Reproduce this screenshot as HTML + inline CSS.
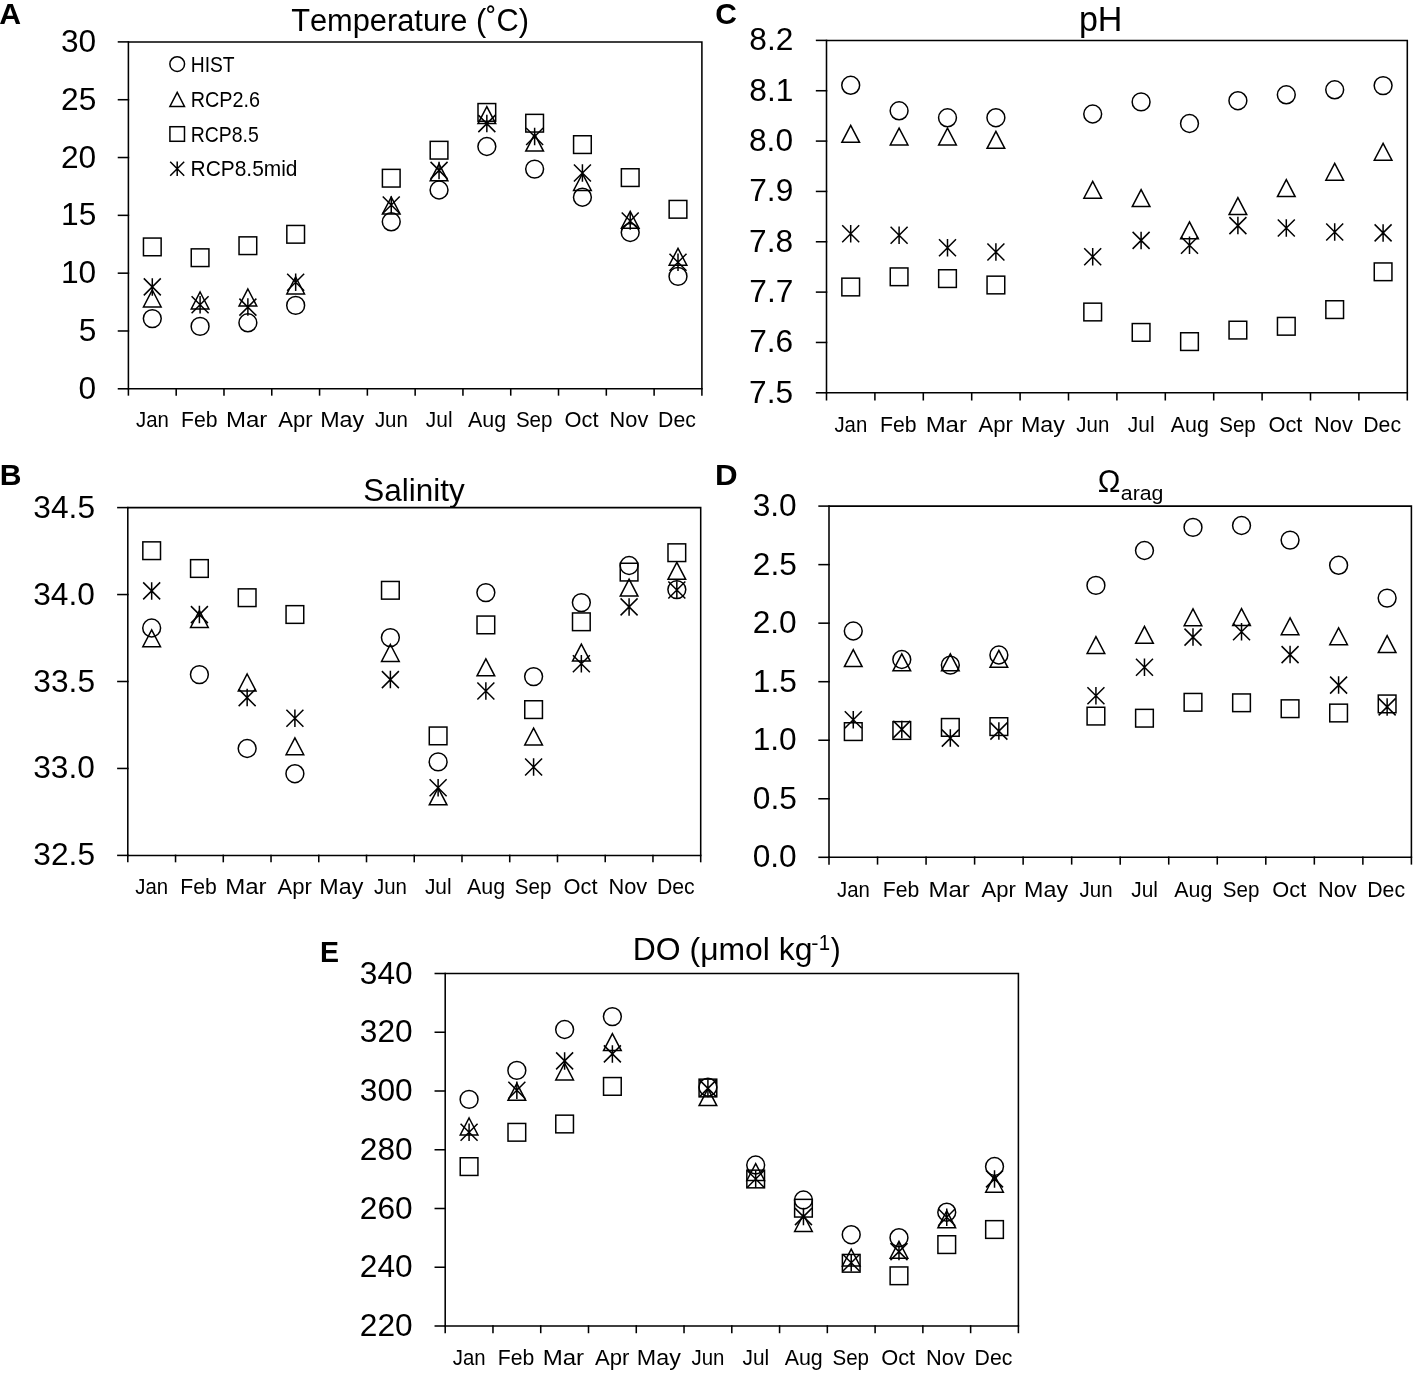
<!DOCTYPE html>
<html><head><meta charset="utf-8"><title>Figure</title>
<style>html,body{margin:0;padding:0;background:#fff;}body{width:1415px;height:1373px;overflow:hidden;}svg{display:block;}</style>
</head><body>
<svg width="1415" height="1373" viewBox="0 0 1415 1373">
<rect width="1415" height="1373" fill="#fff"/>
<g fill="none" stroke="#000" stroke-width="1.55" stroke-linecap="square">
<path d="M128.4 41.9H701.9V388.8H128.4Z"/>
<path d="M118.5 388.8H128.4"/>
<path d="M118.5 330.98H128.4"/>
<path d="M118.5 273.17H128.4"/>
<path d="M118.5 215.35H128.4"/>
<path d="M118.5 157.53H128.4"/>
<path d="M118.5 99.72H128.4"/>
<path d="M118.5 41.9H128.4"/>
<path d="M128.4 388.8V394.9"/>
<path d="M176.19 388.8V394.9"/>
<path d="M223.98 388.8V394.9"/>
<path d="M271.77 388.8V394.9"/>
<path d="M319.57 388.8V394.9"/>
<path d="M367.36 388.8V394.9"/>
<path d="M415.15 388.8V394.9"/>
<path d="M462.94 388.8V394.9"/>
<path d="M510.73 388.8V394.9"/>
<path d="M558.52 388.8V394.9"/>
<path d="M606.32 388.8V394.9"/>
<path d="M654.11 388.8V394.9"/>
<path d="M701.9 388.8V394.9"/>
<path d="M127.8 507.6H700.7V855.4H127.8Z"/>
<path d="M117.9 855.4H127.8"/>
<path d="M117.9 768.45H127.8"/>
<path d="M117.9 681.5H127.8"/>
<path d="M117.9 594.55H127.8"/>
<path d="M117.9 507.6H127.8"/>
<path d="M127.8 855.4V861.55"/>
<path d="M175.54 855.4V861.55"/>
<path d="M223.28 855.4V861.55"/>
<path d="M271.03 855.4V861.55"/>
<path d="M318.77 855.4V861.55"/>
<path d="M366.51 855.4V861.55"/>
<path d="M414.25 855.4V861.55"/>
<path d="M461.99 855.4V861.55"/>
<path d="M509.73 855.4V861.55"/>
<path d="M557.48 855.4V861.55"/>
<path d="M605.22 855.4V861.55"/>
<path d="M652.96 855.4V861.55"/>
<path d="M700.7 855.4V861.55"/>
<path d="M826.5 40.4H1407.3V392.8H826.5Z"/>
<path d="M816.6 392.8H826.5"/>
<path d="M816.6 342.46H826.5"/>
<path d="M816.6 292.11H826.5"/>
<path d="M816.6 241.77H826.5"/>
<path d="M816.6 191.43H826.5"/>
<path d="M816.6 141.09H826.5"/>
<path d="M816.6 90.74H826.5"/>
<path d="M816.6 40.4H826.5"/>
<path d="M826.5 392.8V399.75"/>
<path d="M874.9 392.8V399.75"/>
<path d="M923.3 392.8V399.75"/>
<path d="M971.7 392.8V399.75"/>
<path d="M1020.1 392.8V399.75"/>
<path d="M1068.5 392.8V399.75"/>
<path d="M1116.9 392.8V399.75"/>
<path d="M1165.3 392.8V399.75"/>
<path d="M1213.7 392.8V399.75"/>
<path d="M1262.1 392.8V399.75"/>
<path d="M1310.5 392.8V399.75"/>
<path d="M1358.9 392.8V399.75"/>
<path d="M1407.3 392.8V399.75"/>
<path d="M829 506.1H1411.4V857.3H829Z"/>
<path d="M819.1 857.3H829"/>
<path d="M819.1 798.77H829"/>
<path d="M819.1 740.23H829"/>
<path d="M819.1 681.7H829"/>
<path d="M819.1 623.17H829"/>
<path d="M819.1 564.63H829"/>
<path d="M819.1 506.1H829"/>
<path d="M829 857.3V863.85"/>
<path d="M877.53 857.3V863.85"/>
<path d="M926.07 857.3V863.85"/>
<path d="M974.6 857.3V863.85"/>
<path d="M1023.13 857.3V863.85"/>
<path d="M1071.67 857.3V863.85"/>
<path d="M1120.2 857.3V863.85"/>
<path d="M1168.73 857.3V863.85"/>
<path d="M1217.27 857.3V863.85"/>
<path d="M1265.8 857.3V863.85"/>
<path d="M1314.33 857.3V863.85"/>
<path d="M1362.87 857.3V863.85"/>
<path d="M1411.4 857.3V863.85"/>
<path d="M445.2 973.5H1018.4V1326H445.2Z"/>
<path d="M435.3 1326H445.2"/>
<path d="M435.3 1267.25H445.2"/>
<path d="M435.3 1208.5H445.2"/>
<path d="M435.3 1149.75H445.2"/>
<path d="M435.3 1091H445.2"/>
<path d="M435.3 1032.25H445.2"/>
<path d="M435.3 973.5H445.2"/>
<path d="M445.2 1326V1332.45"/>
<path d="M492.97 1326V1332.45"/>
<path d="M540.73 1326V1332.45"/>
<path d="M588.5 1326V1332.45"/>
<path d="M636.27 1326V1332.45"/>
<path d="M684.03 1326V1332.45"/>
<path d="M731.8 1326V1332.45"/>
<path d="M779.57 1326V1332.45"/>
<path d="M827.33 1326V1332.45"/>
<path d="M875.1 1326V1332.45"/>
<path d="M922.87 1326V1332.45"/>
<path d="M970.63 1326V1332.45"/>
<path d="M1018.4 1326V1332.45"/>
</g>
<g fill="none" stroke="#000" stroke-width="1.5" stroke-linejoin="miter" stroke-miterlimit="4">
<circle cx="152.3" cy="318.6" r="8.93"/>
<circle cx="200.09" cy="326.4" r="8.93"/>
<circle cx="247.88" cy="322.8" r="8.93"/>
<circle cx="295.67" cy="305.4" r="8.93"/>
<circle cx="391.25" cy="221.8" r="8.93"/>
<circle cx="439.05" cy="190" r="8.93"/>
<circle cx="486.84" cy="146.5" r="8.93"/>
<circle cx="534.63" cy="169.1" r="8.93"/>
<circle cx="582.42" cy="197.2" r="8.93"/>
<circle cx="630.21" cy="232.5" r="8.93"/>
<circle cx="678" cy="276.4" r="8.93"/>
<path d="M152.3 289.98L161.14 306.9H143.46Z"/>
<path d="M200.09 291.98L208.93 308.9H191.25Z"/>
<path d="M247.88 288.98L256.72 305.9H239.04Z"/>
<path d="M295.67 276.98L304.51 293.9H286.83Z"/>
<path d="M391.25 197.09L400.09 214H382.41Z"/>
<path d="M439.05 163.89L447.89 180.8H430.21Z"/>
<path d="M486.84 106.69L495.68 123.6H478Z"/>
<path d="M534.63 134.19L543.47 151.1H525.79Z"/>
<path d="M582.42 173.59L591.26 190.5H573.58Z"/>
<path d="M630.21 211.28L639.05 228.2H621.37Z"/>
<path d="M678 248.28L686.84 265.2H669.16Z"/>
<rect x="143.46" y="238.06" width="17.68" height="17.68"/>
<rect x="191.25" y="248.86" width="17.68" height="17.68"/>
<rect x="239.04" y="236.86" width="17.68" height="17.68"/>
<rect x="286.83" y="225.46" width="17.68" height="17.68"/>
<rect x="382.41" y="169.36" width="17.68" height="17.68"/>
<rect x="430.21" y="141.36" width="17.68" height="17.68"/>
<rect x="478" y="103.56" width="17.68" height="17.68"/>
<rect x="525.79" y="114.36" width="17.68" height="17.68"/>
<rect x="573.58" y="135.76" width="17.68" height="17.68"/>
<rect x="621.37" y="168.76" width="17.68" height="17.68"/>
<rect x="669.16" y="200.46" width="17.68" height="17.68"/>
<path d="M152.3 278.14V295.65M143.8 278.4L160.8 295.4M160.8 278.4L143.8 295.4"/>
<path d="M200.09 296.05V313.56M191.59 296.3L208.59 313.3M208.59 296.3L191.59 313.3"/>
<path d="M247.88 298.35V315.86M239.38 298.6L256.38 315.6M256.38 298.6L239.38 315.6"/>
<path d="M295.67 273.44V290.95M287.17 273.7L304.17 290.7M304.17 273.7L287.17 290.7"/>
<path d="M391.25 196.25V213.75M382.75 196.5L399.75 213.5M399.75 196.5L382.75 213.5"/>
<path d="M439.05 161.65V179.16M430.55 161.9L447.55 178.9M447.55 161.9L430.55 178.9"/>
<path d="M486.84 114.84V132.35M478.34 115.1L495.34 132.1M495.34 115.1L478.34 132.1"/>
<path d="M534.63 127.75V145.25M526.13 128L543.13 145M543.13 128L526.13 145"/>
<path d="M582.42 164.25V181.75M573.92 164.5L590.92 181.5M590.92 164.5L573.92 181.5"/>
<path d="M630.21 212.25V229.75M621.71 212.5L638.71 229.5M638.71 212.5L621.71 229.5"/>
<path d="M678 253.55V271.06M669.5 253.8L686.5 270.8M686.5 253.8L669.5 270.8"/>
<circle cx="151.67" cy="628" r="8.93"/>
<circle cx="199.41" cy="674.6" r="8.93"/>
<circle cx="247.15" cy="748.5" r="8.93"/>
<circle cx="294.9" cy="773.7" r="8.93"/>
<circle cx="390.38" cy="637.6" r="8.93"/>
<circle cx="438.12" cy="761.9" r="8.93"/>
<circle cx="485.86" cy="592.6" r="8.93"/>
<circle cx="533.6" cy="676.6" r="8.93"/>
<circle cx="581.35" cy="602.6" r="8.93"/>
<circle cx="629.09" cy="565.5" r="8.93"/>
<circle cx="676.83" cy="589.6" r="8.93"/>
<path d="M151.67 629.79L160.51 646.7H142.83Z"/>
<path d="M199.41 610.59L208.25 627.5H190.57Z"/>
<path d="M247.15 673.99L255.99 690.9H238.31Z"/>
<path d="M294.9 737.79L303.74 754.7H286.06Z"/>
<path d="M390.38 644.49L399.22 661.4H381.54Z"/>
<path d="M438.12 787.88L446.96 804.8H429.28Z"/>
<path d="M485.86 658.88L494.7 675.8H477.02Z"/>
<path d="M533.6 728.09L542.44 745H524.76Z"/>
<path d="M581.35 644.19L590.19 661.1H572.51Z"/>
<path d="M629.09 579.19L637.93 596.1H620.25Z"/>
<path d="M676.83 562.38L685.67 579.3H667.99Z"/>
<rect x="142.83" y="541.86" width="17.68" height="17.68"/>
<rect x="190.57" y="559.66" width="17.68" height="17.68"/>
<rect x="238.31" y="588.86" width="17.68" height="17.68"/>
<rect x="286.06" y="605.66" width="17.68" height="17.68"/>
<rect x="381.54" y="581.46" width="17.68" height="17.68"/>
<rect x="429.28" y="727.06" width="17.68" height="17.68"/>
<rect x="477.02" y="616.06" width="17.68" height="17.68"/>
<rect x="524.76" y="700.76" width="17.68" height="17.68"/>
<rect x="572.51" y="612.96" width="17.68" height="17.68"/>
<rect x="620.25" y="563.26" width="17.68" height="17.68"/>
<rect x="667.99" y="543.86" width="17.68" height="17.68"/>
<path d="M151.67 582.14V599.65M143.17 582.4L160.17 599.4M160.17 582.4L143.17 599.4"/>
<path d="M199.41 605.85V623.36M190.91 606.1L207.91 623.1M207.91 606.1L190.91 623.1"/>
<path d="M247.15 688.85V706.36M238.65 689.1L255.65 706.1M255.65 689.1L238.65 706.1"/>
<path d="M294.9 709.54V727.05M286.4 709.8L303.4 726.8M303.4 709.8L286.4 726.8"/>
<path d="M390.38 670.85V688.36M381.88 671.1L398.88 688.1M398.88 671.1L381.88 688.1"/>
<path d="M438.12 779.04V796.55M429.62 779.3L446.62 796.3M446.62 779.3L429.62 796.3"/>
<path d="M485.86 682.25V699.75M477.36 682.5L494.36 699.5M494.36 682.5L477.36 699.5"/>
<path d="M533.6 758.25V775.75M525.1 758.5L542.1 775.5M542.1 758.5L525.1 775.5"/>
<path d="M581.35 655.04V672.55M572.85 655.3L589.85 672.3M589.85 655.3L572.85 672.3"/>
<path d="M629.09 598.14V615.65M620.59 598.4L637.59 615.4M637.59 598.4L620.59 615.4"/>
<path d="M676.83 581.25V598.75M668.33 581.5L685.33 598.5M685.33 581.5L668.33 598.5"/>
<circle cx="850.7" cy="85.3" r="8.93"/>
<circle cx="899.1" cy="110.8" r="8.93"/>
<circle cx="947.5" cy="117.8" r="8.93"/>
<circle cx="995.9" cy="117.7" r="8.93"/>
<circle cx="1092.7" cy="114" r="8.93"/>
<circle cx="1141.1" cy="101.9" r="8.93"/>
<circle cx="1189.5" cy="123.5" r="8.93"/>
<circle cx="1237.9" cy="100.7" r="8.93"/>
<circle cx="1286.3" cy="94.8" r="8.93"/>
<circle cx="1334.7" cy="89.8" r="8.93"/>
<circle cx="1383.1" cy="85.6" r="8.93"/>
<path d="M850.7 125.39L859.54 142.3H841.86Z"/>
<path d="M899.1 128.09L907.94 145H890.26Z"/>
<path d="M947.5 128.09L956.34 145H938.66Z"/>
<path d="M995.9 131.39L1004.74 148.3H987.06Z"/>
<path d="M1092.7 181.28L1101.54 198.2H1083.86Z"/>
<path d="M1141.1 189.69L1149.94 206.6H1132.26Z"/>
<path d="M1189.5 221.89L1198.34 238.8H1180.66Z"/>
<path d="M1237.9 197.69L1246.74 214.6H1229.06Z"/>
<path d="M1286.3 179.69L1295.14 196.6H1277.46Z"/>
<path d="M1334.7 163.28L1343.54 180.2H1325.86Z"/>
<path d="M1383.1 143.28L1391.94 160.2H1374.26Z"/>
<rect x="841.86" y="278.16" width="17.68" height="17.68"/>
<rect x="890.26" y="267.96" width="17.68" height="17.68"/>
<rect x="938.66" y="269.76" width="17.68" height="17.68"/>
<rect x="987.06" y="276.16" width="17.68" height="17.68"/>
<rect x="1083.86" y="303.16" width="17.68" height="17.68"/>
<rect x="1132.26" y="323.56" width="17.68" height="17.68"/>
<rect x="1180.66" y="332.76" width="17.68" height="17.68"/>
<rect x="1229.06" y="321.26" width="17.68" height="17.68"/>
<rect x="1277.46" y="317.46" width="17.68" height="17.68"/>
<rect x="1325.86" y="300.76" width="17.68" height="17.68"/>
<rect x="1374.26" y="262.96" width="17.68" height="17.68"/>
<path d="M850.7 225.05V242.56M842.2 225.3L859.2 242.3M859.2 225.3L842.2 242.3"/>
<path d="M899.1 226.44V243.95M890.6 226.7L907.6 243.7M907.6 226.7L890.6 243.7"/>
<path d="M947.5 239.05V256.56M939 239.3L956 256.3M956 239.3L939 256.3"/>
<path d="M995.9 243.25V260.75M987.4 243.5L1004.4 260.5M1004.4 243.5L987.4 260.5"/>
<path d="M1092.7 247.94V265.45M1084.2 248.2L1101.2 265.2M1101.2 248.2L1084.2 265.2"/>
<path d="M1141.1 231.65V249.16M1132.6 231.9L1149.6 248.9M1149.6 231.9L1132.6 248.9"/>
<path d="M1189.5 236.55V254.06M1181 236.8L1198 253.8M1198 236.8L1181 253.8"/>
<path d="M1237.9 216.84V234.35M1229.4 217.1L1246.4 234.1M1246.4 217.1L1229.4 234.1"/>
<path d="M1286.3 219.25V236.75M1277.8 219.5L1294.8 236.5M1294.8 219.5L1277.8 236.5"/>
<path d="M1334.7 223.25V240.75M1326.2 223.5L1343.2 240.5M1343.2 223.5L1326.2 240.5"/>
<path d="M1383.1 224.15V241.66M1374.6 224.4L1391.6 241.4M1391.6 224.4L1374.6 241.4"/>
<circle cx="853.27" cy="631" r="8.93"/>
<circle cx="901.8" cy="659.5" r="8.93"/>
<circle cx="950.33" cy="665.1" r="8.93"/>
<circle cx="998.87" cy="655" r="8.93"/>
<circle cx="1095.93" cy="585.4" r="8.93"/>
<circle cx="1144.47" cy="550.5" r="8.93"/>
<circle cx="1193" cy="527.4" r="8.93"/>
<circle cx="1241.53" cy="525.5" r="8.93"/>
<circle cx="1290.07" cy="540.1" r="8.93"/>
<circle cx="1338.6" cy="565.3" r="8.93"/>
<circle cx="1387.13" cy="598.1" r="8.93"/>
<path d="M853.27 649.69L862.11 666.6H844.43Z"/>
<path d="M901.8 653.88L910.64 670.8H892.96Z"/>
<path d="M950.33 653.88L959.17 670.8H941.49Z"/>
<path d="M998.87 650.38L1007.71 667.3H990.03Z"/>
<path d="M1095.93 636.59L1104.77 653.5H1087.09Z"/>
<path d="M1144.47 626.38L1153.31 643.3H1135.63Z"/>
<path d="M1193 608.79L1201.84 625.7H1184.16Z"/>
<path d="M1241.53 608.59L1250.37 625.5H1232.69Z"/>
<path d="M1290.07 617.79L1298.91 634.7H1281.23Z"/>
<path d="M1338.6 627.79L1347.44 644.7H1329.76Z"/>
<path d="M1387.13 635.69L1395.97 652.6H1378.29Z"/>
<rect x="844.43" y="722.76" width="17.68" height="17.68"/>
<rect x="892.96" y="721.66" width="17.68" height="17.68"/>
<rect x="941.49" y="718.56" width="17.68" height="17.68"/>
<rect x="990.03" y="717.76" width="17.68" height="17.68"/>
<rect x="1087.09" y="707.26" width="17.68" height="17.68"/>
<rect x="1135.63" y="709.36" width="17.68" height="17.68"/>
<rect x="1184.16" y="693.46" width="17.68" height="17.68"/>
<rect x="1232.69" y="693.96" width="17.68" height="17.68"/>
<rect x="1281.23" y="699.86" width="17.68" height="17.68"/>
<rect x="1329.76" y="704.16" width="17.68" height="17.68"/>
<rect x="1378.29" y="695.06" width="17.68" height="17.68"/>
<path d="M853.27 711.04V728.55M844.77 711.3L861.77 728.3M861.77 711.3L844.77 728.3"/>
<path d="M901.8 720.64V738.15M893.3 720.9L910.3 737.9M910.3 720.9L893.3 737.9"/>
<path d="M950.33 729.35V746.86M941.83 729.6L958.83 746.6M958.83 729.6L941.83 746.6"/>
<path d="M998.87 722.35V739.86M990.37 722.6L1007.37 739.6M1007.37 722.6L990.37 739.6"/>
<path d="M1095.93 686.95V704.46M1087.43 687.2L1104.43 704.2M1104.43 687.2L1087.43 704.2"/>
<path d="M1144.47 658.45V675.96M1135.97 658.7L1152.97 675.7M1152.97 658.7L1135.97 675.7"/>
<path d="M1193 628.35V645.86M1184.5 628.6L1201.5 645.6M1201.5 628.6L1184.5 645.6"/>
<path d="M1241.53 622.95V640.46M1233.03 623.2L1250.03 640.2M1250.03 623.2L1233.03 640.2"/>
<path d="M1290.07 645.85V663.36M1281.57 646.1L1298.57 663.1M1298.57 646.1L1281.57 663.1"/>
<path d="M1338.6 676.35V693.86M1330.1 676.6L1347.1 693.6M1347.1 676.6L1330.1 693.6"/>
<path d="M1387.13 698.14V715.65M1378.63 698.4L1395.63 715.4M1395.63 698.4L1378.63 715.4"/>
<circle cx="469.08" cy="1099.4" r="8.93"/>
<circle cx="516.85" cy="1070.4" r="8.93"/>
<circle cx="564.62" cy="1029.5" r="8.93"/>
<circle cx="612.38" cy="1016.6" r="8.93"/>
<circle cx="707.92" cy="1087.2" r="8.93"/>
<circle cx="755.68" cy="1165" r="8.93"/>
<circle cx="803.45" cy="1200" r="8.93"/>
<circle cx="851.22" cy="1234.7" r="8.93"/>
<circle cx="898.98" cy="1237.7" r="8.93"/>
<circle cx="946.75" cy="1212.2" r="8.93"/>
<circle cx="994.52" cy="1166.5" r="8.93"/>
<path d="M469.08 1117.99L477.92 1134.9H460.24Z"/>
<path d="M516.85 1083.38L525.69 1100.3H508.01Z"/>
<path d="M564.62 1063.09L573.46 1080H555.78Z"/>
<path d="M612.38 1033.68L621.22 1050.6H603.54Z"/>
<path d="M707.92 1088.68L716.76 1105.6H699.08Z"/>
<path d="M755.68 1163.59L764.52 1180.5H746.84Z"/>
<path d="M803.45 1214.59L812.29 1231.5H794.61Z"/>
<path d="M851.22 1249.09L860.06 1266H842.38Z"/>
<path d="M898.98 1241.29L907.82 1258.2H890.14Z"/>
<path d="M946.75 1210.88L955.59 1227.8H937.91Z"/>
<path d="M994.52 1175.29L1003.36 1192.2H985.68Z"/>
<rect x="460.24" y="1157.76" width="17.68" height="17.68"/>
<rect x="508.01" y="1123.46" width="17.68" height="17.68"/>
<rect x="555.78" y="1115.16" width="17.68" height="17.68"/>
<rect x="603.54" y="1077.56" width="17.68" height="17.68"/>
<rect x="699.08" y="1079.16" width="17.68" height="17.68"/>
<rect x="746.84" y="1170.16" width="17.68" height="17.68"/>
<rect x="794.61" y="1199.36" width="17.68" height="17.68"/>
<rect x="842.38" y="1254.46" width="17.68" height="17.68"/>
<rect x="890.14" y="1266.96" width="17.68" height="17.68"/>
<rect x="937.91" y="1235.76" width="17.68" height="17.68"/>
<rect x="985.68" y="1220.66" width="17.68" height="17.68"/>
<path d="M469.08 1123.54V1141.06M460.58 1123.8L477.58 1140.8M477.58 1123.8L460.58 1140.8"/>
<path d="M516.85 1081.44V1098.96M508.35 1081.7L525.35 1098.7M525.35 1081.7L508.35 1098.7"/>
<path d="M564.62 1052.14V1069.66M556.12 1052.4L573.12 1069.4M573.12 1052.4L556.12 1069.4"/>
<path d="M612.38 1045.14V1062.66M603.88 1045.4L620.88 1062.4M620.88 1045.4L603.88 1062.4"/>
<path d="M707.92 1079.64V1097.16M699.42 1079.9L716.42 1096.9M716.42 1079.9L699.42 1096.9"/>
<path d="M755.68 1170.24V1187.76M747.18 1170.5L764.18 1187.5M764.18 1170.5L747.18 1187.5"/>
<path d="M803.45 1207.84V1225.36M794.95 1208.1L811.95 1225.1M811.95 1208.1L794.95 1225.1"/>
<path d="M851.22 1254.04V1271.56M842.72 1254.3L859.72 1271.3M859.72 1254.3L842.72 1271.3"/>
<path d="M898.98 1242.84V1260.36M890.48 1243.1L907.48 1260.1M907.48 1243.1L890.48 1260.1"/>
<path d="M946.75 1208.44V1225.96M938.25 1208.7L955.25 1225.7M955.25 1208.7L938.25 1225.7"/>
<path d="M994.52 1170.14V1187.66M986.02 1170.4L1003.02 1187.4M1003.02 1170.4L986.02 1187.4"/>
<circle cx="177.2" cy="64.1" r="7.35"/>
<path d="M177.2 92.47L184.48 106.4H169.92Z"/>
<rect x="169.92" y="126.72" width="14.56" height="14.56"/>
<path d="M177.2 161.59V176.01M170.2 161.8L184.2 175.8M184.2 161.8L170.2 175.8"/>
</g>
<g fill="#000" font-family="'Liberation Sans', Arial, sans-serif" style="font-kerning:none">
<text transform="translate(78.61 398.8) scale(1.0200 1)" font-size="31.07" >0</text>
<text transform="translate(78.7 340.98) scale(1.0200 1)" font-size="31.07" >5</text>
<text transform="translate(60.98 283.17) scale(1.0200 1)" font-size="31.07" >10</text>
<text transform="translate(61.08 225.35) scale(1.0200 1)" font-size="31.07" >15</text>
<text transform="translate(60.98 167.53) scale(1.0200 1)" font-size="31.07" >20</text>
<text transform="translate(61.08 109.72) scale(1.0200 1)" font-size="31.07" >25</text>
<text transform="translate(60.98 51.9) scale(1.0200 1)" font-size="31.07" >30</text>
<text transform="translate(135.98 426.8) scale(0.9159 1)" font-size="22.24" >Jan</text>
<text transform="translate(181 426.8) scale(0.9533 1)" font-size="22.24" >Feb</text>
<text transform="translate(226.01 426.8) scale(1.0802 1)" font-size="22.24" >Mar</text>
<text transform="translate(278.28 426.8) scale(0.9914 1)" font-size="22.24" >Apr</text>
<text transform="translate(320.15 426.8) scale(1.0462 1)" font-size="22.24" >May</text>
<text transform="translate(374.88 426.8) scale(0.9189 1)" font-size="22.24" >Jun</text>
<text transform="translate(425.82 426.8) scale(0.9401 1)" font-size="22.24" >Jul</text>
<text transform="translate(468.05 426.8) scale(0.9634 1)" font-size="22.24" >Aug</text>
<text transform="translate(515.9 426.8) scale(0.9249 1)" font-size="22.24" >Sep</text>
<text transform="translate(564.59 426.8) scale(0.9826 1)" font-size="22.24" >Oct</text>
<text transform="translate(609.57 426.8) scale(0.9801 1)" font-size="22.24" >Nov</text>
<text transform="translate(658.11 426.8) scale(0.9559 1)" font-size="22.24" >Dec</text>
<text transform="translate(33.34 865.4) scale(1.0200 1)" font-size="31.07" >32.5</text>
<text transform="translate(33.25 778.45) scale(1.0200 1)" font-size="31.07" >33.0</text>
<text transform="translate(33.34 691.5) scale(1.0200 1)" font-size="31.07" >33.5</text>
<text transform="translate(33.25 604.55) scale(1.0200 1)" font-size="31.07" >34.0</text>
<text transform="translate(33.34 517.6) scale(1.0200 1)" font-size="31.07" >34.5</text>
<text transform="translate(135.35 894.1) scale(0.9159 1)" font-size="22.24" >Jan</text>
<text transform="translate(180.32 894.1) scale(0.9533 1)" font-size="22.24" >Feb</text>
<text transform="translate(225.28 894.1) scale(1.0802 1)" font-size="22.24" >Mar</text>
<text transform="translate(277.5 894.1) scale(0.9914 1)" font-size="22.24" >Apr</text>
<text transform="translate(319.33 894.1) scale(1.0462 1)" font-size="22.24" >May</text>
<text transform="translate(374.01 894.1) scale(0.9189 1)" font-size="22.24" >Jun</text>
<text transform="translate(424.89 894.1) scale(0.9401 1)" font-size="22.24" >Jul</text>
<text transform="translate(467.07 894.1) scale(0.9634 1)" font-size="22.24" >Aug</text>
<text transform="translate(514.87 894.1) scale(0.9249 1)" font-size="22.24" >Sep</text>
<text transform="translate(563.51 894.1) scale(0.9826 1)" font-size="22.24" >Oct</text>
<text transform="translate(608.45 894.1) scale(0.9801 1)" font-size="22.24" >Nov</text>
<text transform="translate(656.94 894.1) scale(0.9559 1)" font-size="22.24" >Dec</text>
<text transform="translate(749.07 402.8) scale(1.0200 1)" font-size="31.07" >7.5</text>
<text transform="translate(749.13 352.46) scale(1.0200 1)" font-size="31.07" >7.6</text>
<text transform="translate(749.33 302.11) scale(1.0200 1)" font-size="31.07" >7.7</text>
<text transform="translate(749.12 251.77) scale(1.0200 1)" font-size="31.07" >7.8</text>
<text transform="translate(749.24 201.43) scale(1.0200 1)" font-size="31.07" >7.9</text>
<text transform="translate(748.98 151.09) scale(1.0200 1)" font-size="31.07" >8.0</text>
<text transform="translate(749.29 100.74) scale(1.0200 1)" font-size="31.07" >8.1</text>
<text transform="translate(749.33 50.4) scale(1.0200 1)" font-size="31.07" >8.2</text>
<text transform="translate(834.38 432.4) scale(0.9159 1)" font-size="22.24" >Jan</text>
<text transform="translate(880.01 432.4) scale(0.9533 1)" font-size="22.24" >Feb</text>
<text transform="translate(925.63 432.4) scale(1.0802 1)" font-size="22.24" >Mar</text>
<text transform="translate(978.51 432.4) scale(0.9914 1)" font-size="22.24" >Apr</text>
<text transform="translate(1020.99 432.4) scale(1.0462 1)" font-size="22.24" >May</text>
<text transform="translate(1076.33 432.4) scale(0.9189 1)" font-size="22.24" >Jun</text>
<text transform="translate(1127.87 432.4) scale(0.9401 1)" font-size="22.24" >Jul</text>
<text transform="translate(1170.71 432.4) scale(0.9634 1)" font-size="22.24" >Aug</text>
<text transform="translate(1219.17 432.4) scale(0.9249 1)" font-size="22.24" >Sep</text>
<text transform="translate(1268.46 432.4) scale(0.9826 1)" font-size="22.24" >Oct</text>
<text transform="translate(1314.06 432.4) scale(0.9801 1)" font-size="22.24" >Nov</text>
<text transform="translate(1363.21 432.4) scale(0.9559 1)" font-size="22.24" >Dec</text>
<text transform="translate(752.68 867.3) scale(1.0200 1)" font-size="31.07" >0.0</text>
<text transform="translate(752.77 808.77) scale(1.0200 1)" font-size="31.07" >0.5</text>
<text transform="translate(752.68 750.23) scale(1.0200 1)" font-size="31.07" >1.0</text>
<text transform="translate(752.77 691.7) scale(1.0200 1)" font-size="31.07" >1.5</text>
<text transform="translate(752.68 633.17) scale(1.0200 1)" font-size="31.07" >2.0</text>
<text transform="translate(752.77 574.63) scale(1.0200 1)" font-size="31.07" >2.5</text>
<text transform="translate(752.68 516.1) scale(1.0200 1)" font-size="31.07" >3.0</text>
<text transform="translate(836.95 896.9) scale(0.9159 1)" font-size="22.24" >Jan</text>
<text transform="translate(882.71 896.9) scale(0.9533 1)" font-size="22.24" >Feb</text>
<text transform="translate(928.46 896.9) scale(1.0802 1)" font-size="22.24" >Mar</text>
<text transform="translate(981.47 896.9) scale(0.9914 1)" font-size="22.24" >Apr</text>
<text transform="translate(1024.09 896.9) scale(1.0462 1)" font-size="22.24" >May</text>
<text transform="translate(1079.56 896.9) scale(0.9189 1)" font-size="22.24" >Jun</text>
<text transform="translate(1131.24 896.9) scale(0.9401 1)" font-size="22.24" >Jul</text>
<text transform="translate(1174.21 896.9) scale(0.9634 1)" font-size="22.24" >Aug</text>
<text transform="translate(1222.8 896.9) scale(0.9249 1)" font-size="22.24" >Sep</text>
<text transform="translate(1272.23 896.9) scale(0.9826 1)" font-size="22.24" >Oct</text>
<text transform="translate(1317.96 896.9) scale(0.9801 1)" font-size="22.24" >Nov</text>
<text transform="translate(1367.24 896.9) scale(0.9559 1)" font-size="22.24" >Dec</text>
<text transform="translate(359.76 1336) scale(1.0200 1)" font-size="31.07" >220</text>
<text transform="translate(359.76 1277.25) scale(1.0200 1)" font-size="31.07" >240</text>
<text transform="translate(359.76 1218.5) scale(1.0200 1)" font-size="31.07" >260</text>
<text transform="translate(359.76 1159.75) scale(1.0200 1)" font-size="31.07" >280</text>
<text transform="translate(359.76 1101) scale(1.0200 1)" font-size="31.07" >300</text>
<text transform="translate(359.76 1042.25) scale(1.0200 1)" font-size="31.07" >320</text>
<text transform="translate(359.76 983.5) scale(1.0200 1)" font-size="31.07" >340</text>
<text transform="translate(452.77 1365) scale(0.9159 1)" font-size="22.24" >Jan</text>
<text transform="translate(497.76 1365) scale(0.9533 1)" font-size="22.24" >Feb</text>
<text transform="translate(542.75 1365) scale(1.0802 1)" font-size="22.24" >Mar</text>
<text transform="translate(594.99 1365) scale(0.9914 1)" font-size="22.24" >Apr</text>
<text transform="translate(636.84 1365) scale(1.0462 1)" font-size="22.24" >May</text>
<text transform="translate(691.55 1365) scale(0.9189 1)" font-size="22.24" >Jun</text>
<text transform="translate(742.46 1365) scale(0.9401 1)" font-size="22.24" >Jul</text>
<text transform="translate(784.66 1365) scale(0.9634 1)" font-size="22.24" >Aug</text>
<text transform="translate(832.48 1365) scale(0.9249 1)" font-size="22.24" >Sep</text>
<text transform="translate(881.15 1365) scale(0.9826 1)" font-size="22.24" >Oct</text>
<text transform="translate(926.11 1365) scale(0.9801 1)" font-size="22.24" >Nov</text>
<text transform="translate(974.62 1365) scale(0.9559 1)" font-size="22.24" >Dec</text>
<text transform="translate(-0.75 24) scale(1.0057 1)" font-size="30.09" font-weight="bold" >A</text>
<text x="-0.32" y="485.3" font-size="30.09" font-weight="bold" >B</text>
<text transform="translate(715.17 24.3) scale(0.9964 1)" font-size="30.09" font-weight="bold" >C</text>
<text transform="translate(714.91 485.3) scale(1.0405 1)" font-size="30.09" font-weight="bold" >D</text>
<text transform="translate(319.99 961.7) scale(0.9479 1)" font-size="30.09" font-weight="bold" >E</text>
<text transform="translate(291.21 31.2) scale(1.0035 1)" font-size="30.67" >Temperature (˚C)</text>
<text transform="translate(1078.9 31.4) scale(0.9854 1)" font-size="34.59" >pH</text>
<text x="363.27" y="501.3" font-size="31.47" >Salinity</text>
<text transform="translate(1097.81 491.6) scale(0.9591 1)" font-size="31.65" >Ω</text>
<text transform="translate(1120.8 499.9) scale(1.0616 1)" font-size="20.04" >arag</text>
<text transform="translate(632.78 960) scale(1.0358 1)" font-size="30.81" >DO (μmol kg</text>
<text transform="translate(811.34 949.51) scale(1.0854 1)" font-size="20" >-</text>
<text transform="translate(818.65 949.9) scale(0.9178 1)" font-size="22.24" >1</text>
<text transform="translate(830.63 960) scale(0.9669 1)" font-size="30.81" >)</text>
<text transform="translate(190.72 72) scale(0.8671 1)" font-size="22.24" >HIST</text>
<text transform="translate(190.68 106.5) scale(0.8899 1)" font-size="22.24" >RCP2.6</text>
<text transform="translate(190.7 141.5) scale(0.8747 1)" font-size="22.24" >RCP8.5</text>
<text transform="translate(190.58 176) scale(0.9407 1)" font-size="22.24" >RCP8.5mid</text>
</g>
</svg>
</body></html>
